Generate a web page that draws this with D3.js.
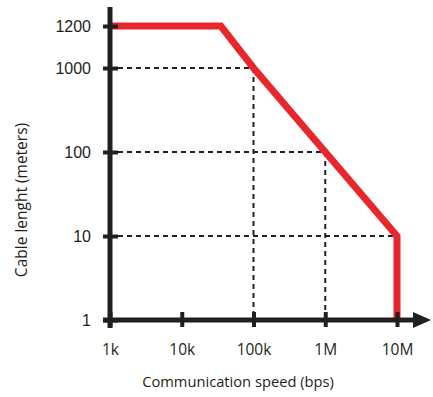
<!DOCTYPE html>
<html><head><meta charset="utf-8">
<script src="https://cdn.jsdelivr.net/npm/d3@7"></script>
<style>html,body{margin:0;padding:0;background:#fff;}</style>
</head><body>
<svg id="c" width="433" height="397"></svg>
<script>
// Data
const xTicks = [1e3, 1e4, 1e5, 1e6, 1e7];
const xTickLabels = ["1k", "10k", "100k", "1M", "10M"];
const yTicks = [1, 10, 100, 1000, 1200];
const yTickLabels = ["1", "10", "100", "1000", "1200"];
const speeds =  [1e3, 3.5e4, 1e5, 1e6, 1e7, 1e7];
const lengths = [1200, 1200, 1000, 100, 10, 1];
const guideSpeeds = [1e5, 1e6, 1e7];
const guideLengths = [1000, 100, 10];

const svg = d3.select("#c");
const axisColor = "#231f20";
const red = "#e8262d";

const x = d3.scaleLog().domain([1e3, 1e7]).range([110, 397]);
const y = d3.scaleLog().domain(yTicks).range([320, 236, 152, 68, 26]);

// dashed guides
const guides = svg.append("g").attr("stroke", axisColor).attr("stroke-width", 2)
  .attr("stroke-dasharray", "5,4").attr("fill", "none");
guideSpeeds.forEach((s, i) => {
  const L = guideLengths[i];
  guides.append("line").attr("x1", x(1e3) + 8).attr("x2", x(s)).attr("y1", y(L)).attr("y2", y(L));
  if (s < 1e7) guides.append("line").attr("x1", x(s)).attr("x2", x(s)).attr("y1", y(L)).attr("y2", y(1) - 6);
});

// red limit line
const pts = speeds.map((s, i) => [s, lengths[i]]);
svg.append("path").datum(pts)
  .attr("d", d3.line().x(d => x(d[0])).y(d => y(d[1])))
  .attr("fill", "none").attr("stroke", red).attr("stroke-width", 7)
  .attr("stroke-linejoin", "miter");

// x axis
const xa = svg.append("g").attr("transform", `translate(0,${y(1)})`)
  .call(d3.axisBottom(x).tickValues(xTicks).tickFormat((d, i) => xTickLabels[i]).tickSize(7));
xa.select(".domain").remove();
xa.selectAll(".tick line").attr("y1", -8).attr("y2", 7).attr("stroke", axisColor).attr("stroke-width", 4);
xa.selectAll(".tick text").attr("y", 35).attr("dy", 0)
  .attr("font-family", "'Open Sans', sans-serif").attr("font-size", 15.5).attr("fill", "#231f20");
svg.append("line").attr("x1", x(1e3) - 7).attr("x2", 416).attr("y1", y(1)).attr("y2", y(1))
  .attr("stroke", axisColor).attr("stroke-width", 5);
svg.append("path").attr("d", `M413,${y(1) - 8} L431,${y(1)} L413,${y(1) + 8} Z`).attr("fill", axisColor);

// y axis
const ya = svg.append("g").attr("transform", `translate(${x(1e3)},0)`)
  .call(d3.axisLeft(y).tickValues(yTicks).tickFormat((d, i) => yTickLabels[i]).tickSize(7));
ya.select(".domain").remove();
ya.selectAll(".tick line").attr("x1", -7).attr("x2", 8).attr("stroke", axisColor).attr("stroke-width", 4);
ya.selectAll(".tick text").attr("x", -19).attr("dy", "0.36em")
  .attr("font-family", "'Liberation Sans', Arial, sans-serif").attr("font-size", 16).attr("fill", "#231f20");
svg.append("line").attr("x1", x(1e3)).attr("x2", x(1e3)).attr("y1", 7).attr("y2", 328)
  .attr("stroke", axisColor).attr("stroke-width", 5);

// titles
svg.append("text").attr("x", 238).attr("y", 387).attr("text-anchor", "middle")
  .attr("font-family", "'Open Sans', sans-serif").attr("font-size", 14.7).attr("fill", "#231f20")
  .text("Communication speed (bps)");
svg.append("text").attr("transform", "translate(27,200) rotate(-90)").attr("text-anchor", "middle")
  .attr("font-family", "'Open Sans', sans-serif").attr("font-size", 15.5).attr("fill", "#231f20")
  .text("Cable lenght (meters)");
</script>
</body></html>
